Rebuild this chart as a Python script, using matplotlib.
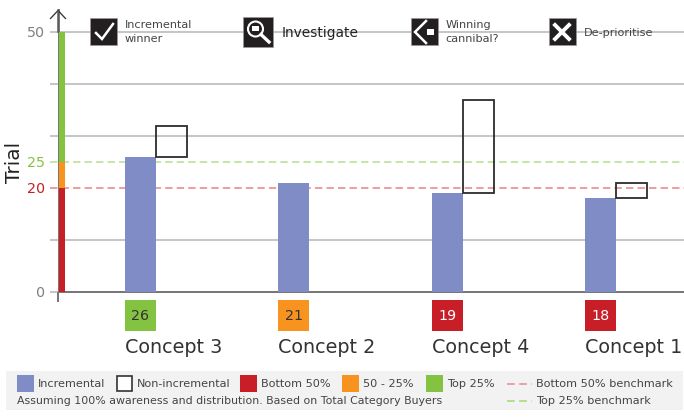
import matplotlib
matplotlib.use("Agg")
import matplotlib.pyplot as plt
from matplotlib.patches import Rectangle, Circle
from matplotlib.transforms import blended_transform_factory as blend

plt.rcParams['font.family'] = ['DejaVu Sans']

concepts = ["Concept 3", "Concept 2", "Concept 4", "Concept 1"]
incremental = [26, 21, 19, 18]
non_incremental = [6, 0, 18, 3]
band_edges = [0, 20, 25, 50]
band_colors = ["#c81e28", "#f7931e", "#84c341"]
grid_values = [10, 30, 40, 50]
tick_values = [50, 25, 20, 0]
bottom_benchmark = 20
top_benchmark = 25

W, H = 684, 419
BLUE = "#7f8cc6"; RED = "#c81e28"; ORANGE = "#f7931e"; GREEN = "#84c341"
DARK = "#231f20"; GRID = "#c6c6c6"; AXIS = "#777777"
px = 72 / 100

fig = plt.figure(figsize=(W / 100, H / 100), dpi=100, facecolor="white")
L, R, T, B = 58.5, 684, 10, 292
ovl = fig.add_axes([0, 0, 1, 1], facecolor="none")
ovl.set_xlim(0, W); ovl.set_ylim(H, 0); ovl.axis("off")
ovl.set_zorder(2)
ax = fig.add_axes([L / W, 1 - B / H, (R - L) / W, (B - T) / H], facecolor="none")
ax.set_zorder(1)

step = 153.4
x0 = 140.5
ax.set_xlim((L - x0) / step, (R - x0) / step)
ax.set_ylim(0, (B - T) / 5.2)
bw = 31 / step
yt = blend(ovl.transData, ax.transData)

# gridlines run from the tick ends left of the axis, beneath everything
ax.set_xticks([]); ax.set_yticks([])
for s in ("top", "right"):
    ax.spines[s].set_visible(False)
ax.spines["bottom"].set(color=AXIS, linewidth=2 * px)
ax.spines["left"].set(color=AXIS, linewidth=2 * px)
for v in grid_values:
    ax.plot([50, 684], [v, v], transform=yt, color=GRID, lw=2 * px, zorder=0.5,
            clip_on=False, solid_capstyle="butt")
ax.plot([50, 58], [0, 0], transform=yt, color=GRID, lw=2 * px, clip_on=False, zorder=0.5,
        solid_capstyle="butt")

# benchmarks
dash = (0, (4.6, 2.6))
ax.plot([50, 684], [top_benchmark] * 2, transform=yt, color="#b9e093", lw=1.6 * px, ls=dash,
        zorder=1, clip_on=False)
ax.plot([50, 684], [bottom_benchmark] * 2, transform=yt, color="#e8878d", lw=1.6 * px, ls=dash,
        zorder=1, clip_on=False)

# bars
xs = list(range(len(concepts)))
ax.bar(xs, incremental, width=bw, color=BLUE, zorder=3, linewidth=0)
for i, (a, b) in enumerate(zip(incremental, non_incremental)):
    if b > 0:
        ax.bar(i + bw, b, bottom=a, width=bw, facecolor="none",
               edgecolor="#2b2b2b", linewidth=1.8 * px, zorder=4)

# vertical scale band
for lo, hi, c in zip(band_edges[:-1], band_edges[1:], band_colors):
    ovl.add_patch(Rectangle((59, lo), 6, hi - lo, transform=yt, color=c, lw=0, zorder=2))

# y tick labels
tick_colors = {50: "#808080", 25: GREEN, 20: RED, 0: "#808080"}
for v in tick_values:
    ovl.text(45.5, v - 0.2, str(v), transform=yt, ha="right", va="center",
             fontsize=10.3, color=tick_colors[v])

# axis extension and arrow
ovl.plot([58, 58], [292, 301.5], color=AXIS, lw=2 * px, solid_capstyle="butt")
ovl.plot([50.5, 58, 65.5], [18.5, 10.5, 18.5], color="#333333", lw=1.3 * px)
ovl.plot([58, 58], [10.5, 32], color="#555555", lw=1.5 * px)
ovl.text(14, 162.5, "Trial", rotation=90, ha="center", va="center", fontsize=14.5, color="#222222")

# value boxes and concept labels
xt = blend(ax.transData, ovl.transData)
def box_color(v):
    if v >= top_benchmark:
        return GREEN
    if v >= bottom_benchmark:
        return ORANGE
    return RED
for i, (c, v) in enumerate(zip(concepts, incremental)):
    col = box_color(v)
    ovl.add_patch(Rectangle((i - bw / 2, 300), bw, 31, transform=xt, color=col, lw=0))
    ovl.text(i, 316, str(v), transform=xt, ha="center", va="center", fontsize=10.3,
             color="white" if col == RED else "#333333")
    ovl.text(i - bw / 2, 347, c, transform=xt, ha="left", va="center", fontsize=13.8, color="#333333")

# decision icons
def icon(x, y, s):
    ovl.add_patch(Rectangle((x, y), s, s, facecolor=DARK, edgecolor="#999999", lw=0.5, zorder=5))
icon(89.5, 18.5, 27)
ovl.plot([96, 102, 113], [33, 39, 24], color="white", lw=1.8, zorder=6, solid_joinstyle="miter")
ovl.text(124.5, 32, "Incremental\nwinner", fontsize=8.1, color="#444444", va="center", ha="left", linespacing=1.45)
icon(243, 17, 30)
ovl.add_patch(Circle((255.5, 29), 7.5, facecolor=DARK, edgecolor="white", lw=1.5, zorder=6))
ovl.add_patch(Rectangle((252, 26), 7, 5.5, color="white", lw=0, zorder=7))
ovl.plot([261, 269], [34.5, 42], color="white", lw=2.4, zorder=6)
ovl.text(281.5, 33, "Investigate", fontsize=9.9, color="#222222", va="center", ha="left")
icon(410.5, 18.5, 27)
ovl.plot([426, 415, 426], [21, 32, 43], color="white", lw=1.8, zorder=6, solid_joinstyle="miter")
ovl.add_patch(Rectangle((427, 29), 7, 6, color="white", lw=0, zorder=6))
ovl.text(445.5, 32, "Winning\ncannibal?", fontsize=8.1, color="#444444", va="center", ha="left", linespacing=1.45)
icon(548.5, 18.5, 27)
ovl.plot([555, 569], [25, 39], color="white", lw=2.8, zorder=6)
ovl.plot([555, 569], [39, 25], color="white", lw=2.8, zorder=6)
ovl.text(584, 32.5, "De-prioritise", fontsize=8.1, color="#444444", va="center", ha="left")

# legend band
ovl.add_patch(Rectangle((6, 371), 677, 39, color="#f2f2f2", lw=0, zorder=1))
fs = 8.1
def swatch(x, c):
    ovl.add_patch(Rectangle((x, 375), 17, 17, color=c, lw=0, zorder=2))
def ltext(x, y, s, size=fs):
    ovl.text(x, y, s, fontsize=size, color="#444444", va="center", ha="left", zorder=3)
swatch(17, BLUE); ltext(38, 384, "Incremental")
ovl.add_patch(Rectangle((117, 376), 15, 15, facecolor="white", edgecolor="#333333", lw=1.2, zorder=2))
ltext(137, 384, "Non-incremental")
swatch(240, RED); ltext(261, 384, "Bottom 50%")
swatch(342, ORANGE); ltext(363, 384, "50 - 25%")
swatch(426, GREEN); ltext(447, 384, "Top 25%")
ovl.plot([507, 532], [383.5, 383.5], color="#e8878d", lw=1.1, ls=(0, (5, 3)), zorder=3)
ltext(536, 384, "Bottom 50% benchmark")
ovl.plot([507, 532], [401, 401], color="#a5d66f", lw=1.1, ls=(0, (5, 3)), zorder=3)
ltext(536, 401, "Top 25% benchmark")
ltext(17, 401, "Assuming 100% awareness and distribution. Based on Total Category Buyers", 7.9)

fig.savefig("out.png", dpi=100)
